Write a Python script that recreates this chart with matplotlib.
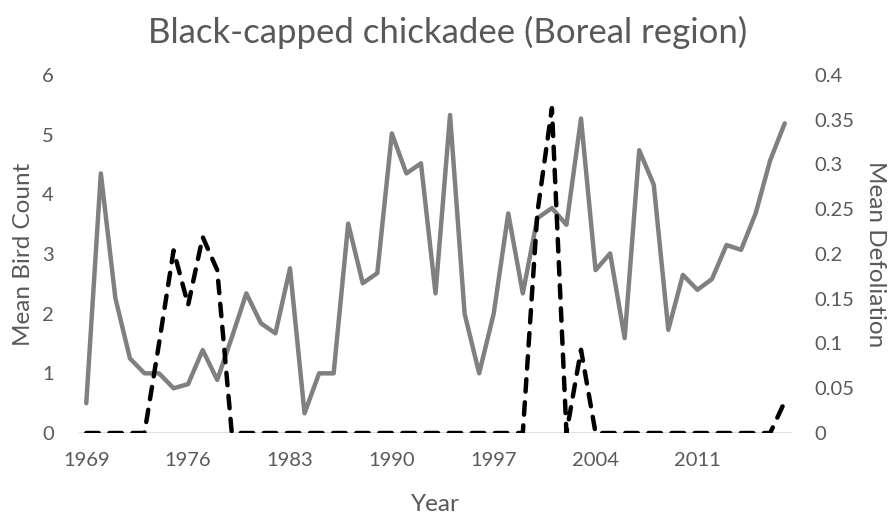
import numpy as np
import matplotlib
matplotlib.use('Agg')
import matplotlib.pyplot as plt
from matplotlib.ticker import MultipleLocator

# Font close to the Excel look
plt.rcParams['font.family'] = ['Lato', 'DejaVu Sans']

text_color = '#595959'

# Data
years = list(range(1969, 2018))
bird_count = [0.50, 4.35, 2.26, 1.25, 1.00, 1.00, 0.75, 0.82, 1.39, 0.89,
              1.60, 2.34, 1.84, 1.67, 2.76, 0.33, 1.00, 1.00, 3.51, 2.51,
              2.68, 5.02, 4.35, 4.52, 2.34, 5.33, 2.00, 1.00, 2.00, 3.68,
              2.34, 3.60, 3.77, 3.49, 5.27, 2.73, 3.01, 1.59, 4.74, 4.16,
              1.73, 2.65, 2.40, 2.58, 3.15, 3.07, 3.68, 4.57, 5.19]
defoliation = [0, 0, 0, 0, 0, 0.10, 0.204, 0.143, 0.219, 0.182,
               0, 0, 0, 0, 0, 0, 0, 0, 0, 0,
               0, 0, 0, 0, 0, 0, 0, 0, 0, 0,
               0, 0.246, 0.363, 0, 0.093, 0, 0, 0, 0, 0,
               0, 0, 0, 0, 0, 0, 0, 0, 0.035]
year_ticks = [1969, 1976, 1983, 1990, 1997, 2004, 2011]
defol_labels = ['0', '0.05', '0.1', '0.15', '0.2', '0.25', '0.3', '0.35', '0.4']


def plot_chart():
    fig = plt.figure(figsize=(8.95, 5.2), dpi=100)
    ax = fig.add_axes([79 / 895, 1 - 433 / 520, (792 - 79) / 895, (433 - 75) / 520])
    ax2 = ax.twinx()

    # Bird count on the left axis
    ax.plot(years, bird_count, color='#808080', lw=3.2,
            solid_joinstyle='round', solid_capstyle='round', zorder=3)

    # Defoliation on the right axis, dashed
    ax2.plot(years, defoliation, color='black', lw=3.2, linestyle=(0, (2.8, 2.4)),
             dash_capstyle='round', dash_joinstyle='round', zorder=3)

    ax.set_xlim(1968.5, 2017.5)
    ax.set_ylim(0, 6)
    ax2.set_ylim(0, 0.4)
    ax.yaxis.set_major_locator(MultipleLocator(1))
    ax2.set_yticks(np.arange(0, 0.401, 0.05))
    ax2.set_yticklabels(defol_labels)
    ax.set_xticks(year_ticks)
    ax.set_xticklabels([str(y) for y in year_ticks])

    for a in (ax, ax2):
        for s in a.spines.values():
            s.set_visible(False)
        a.tick_params(length=0, labelsize=14.5, colors=text_color)
    ax.tick_params(axis='y', pad=18)
    ax2.tick_params(axis='y', pad=16)
    ax.tick_params(axis='x', pad=14)

    # Baseline
    ax.axhline(0, color='#d9d9d9', lw=1.2, zorder=1)

    ax.set_xlabel('Year', fontsize=17.5, color=text_color, labelpad=18)
    ax.set_ylabel('Mean Bird Count', fontsize=17.5, color=text_color, labelpad=6)
    ax2.set_ylabel('Mean Defoliation', fontsize=17.5, color=text_color,
                   rotation=270, labelpad=8, va='bottom')

    fig.suptitle('Black-capped chickadee (Boreal region)', fontsize=25,
                 color=text_color, y=0.97)

    fig.savefig('out.png', dpi=100)


if __name__ == "__main__":
    plot_chart()
